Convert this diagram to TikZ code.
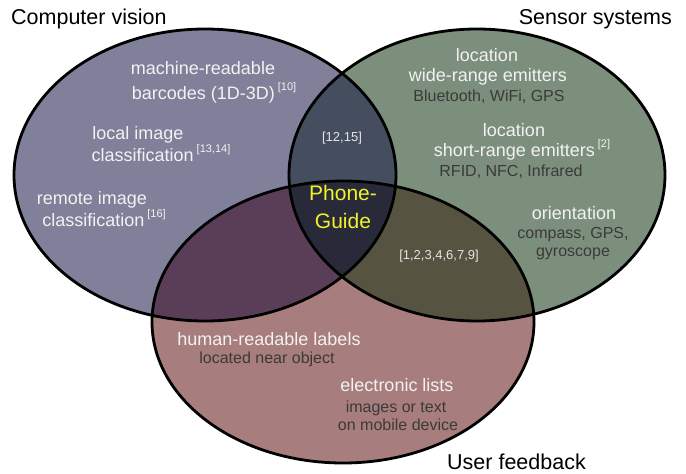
\documentclass[tikz,border=0pt]{standalone}
\usepackage{fontspec}
\setmainfont{Liberation Sans}
\definecolor{cA}{HTML}{80809A}
\definecolor{cB}{HTML}{7C8E7C}
\definecolor{cC}{HTML}{A87D7D}
\definecolor{cAB}{HTML}{444E5F}
\definecolor{cAC}{HTML}{5A3E58}
\definecolor{cBC}{HTML}{565440}
\definecolor{cABC}{HTML}{282A3A}
\definecolor{mainTxt}{HTML}{F2F2F2}
\definecolor{subTxt}{HTML}{3A3A3A}
\definecolor{refTxt}{HTML}{E4E4E4}
\definecolor{pgYellow}{HTML}{F2F22A}
\newcommand{\refsup}[1]{\hspace{3pt}\raisebox{0.5em}{\fontsize{11}{11}\selectfont[#1]}}
\begin{document}
\begin{tikzpicture}[x=1pt,y=-1pt,
  outline/.style={draw=black,line width=2.8pt},
  title/.style={inner sep=0pt,anchor=base,font=\fontsize{21.5}{24}\selectfont,text=black},
  maintext/.style={inner sep=0pt,anchor=base,font=\fontsize{18}{20}\selectfont,text=mainTxt},
  subtext/.style={inner sep=0pt,anchor=base,font=\fontsize{16}{18}\selectfont,text=subTxt},
  reftext/.style={inner sep=0pt,anchor=base,font=\fontsize{13}{15}\selectfont,text=refTxt},
  pgtext/.style={inner sep=0pt,anchor=base,font=\fontsize{21}{24}\selectfont,text=pgYellow}]
\useasboundingbox[fill=white] (0,0) rectangle (686,474);
% base fills
\fill[cA] (205,175) ellipse [x radius=191, y radius=146];
\fill[cB] (477,175) ellipse [x radius=188, y radius=146];
\fill[cC] (343,322) ellipse [x radius=191, y radius=141];
% B and C overlap
\begin{scope}
  \clip (477,175) ellipse [x radius=188, y radius=146];
  \fill[cBC] (343,322) ellipse [x radius=191, y radius=141];
\end{scope}
% overlaps with A
\begin{scope}
  \clip (205,175) ellipse [x radius=191, y radius=146];
  \fill[cAB] (477,175) ellipse [x radius=188, y radius=146];
  \fill[cAC] (343,322) ellipse [x radius=191, y radius=141];
  \clip (477,175) ellipse [x radius=188, y radius=146];
  \fill[cABC] (343,322) ellipse [x radius=191, y radius=141];
\end{scope}
% outlines
\draw[outline] (205,175) ellipse [x radius=191, y radius=146];
\draw[outline] (477,175) ellipse [x radius=188, y radius=146];
\draw[outline] (343,322) ellipse [x radius=191, y radius=141];
% titles
\node[title,anchor=base west] (tA) at (11,24) {Computer vision};
\node[title,anchor=base east] (tB) at (672,24) {Sensor systems};
\node[title,anchor=base west] (tC) at (447,469) {User feedback};
% computer vision
\node[maintext] (a1) at (203,74) {machine-readable};
\node[maintext] (a2) at (214,99) {barcodes (1D-3D)\refsup{10}};
\node[maintext] (a3) at (138,139) {local image};
\node[maintext] (a4) at (161,161) {classification\refsup{13,14}};
\node[maintext] (a5) at (92,204) {remote image};
\node[maintext] (a6) at (104,226) {classification\refsup{16}};
% sensor systems
\node[maintext] (b1) at (487,61) {location};
\node[maintext] (b2) at (488,81) {wide-range emitters};
\node[subtext] (b3) at (489,101) {Bluetooth, WiFi, GPS};
\node[maintext] (b4) at (514,136) {location};
\node[maintext] (b5) at (522,156) {short-range emitters\refsup{2}};
\node[subtext] (b6) at (511,176) {RFID, NFC, Infrared};
\node[maintext] (b7) at (574,219) {orientation};
\node[subtext] (b8) at (573,238) {compass, GPS,};
\node[subtext] (b9) at (573,256) {gyroscope};
% overlaps
\node[reftext] (ab) at (342,141) {[12,15]};
\node[reftext] (bc) at (439,259) {[1,2,3,4,6,7,9]};
\node[pgtext] (pg1) at (343,200) {Phone-};
\node[pgtext] (pg2) at (343,228) {Guide};
% user feedback
\node[maintext] (c1) at (269,345) {human-readable labels};
\node[subtext] (c2) at (267,363) {located near object};
\node[maintext] (c3) at (397,391) {electronic lists};
\node[subtext] (c4) at (396,412) {images or text};
\node[subtext] (c5) at (398,430) {on mobile device};
\end{tikzpicture}
\end{document}
